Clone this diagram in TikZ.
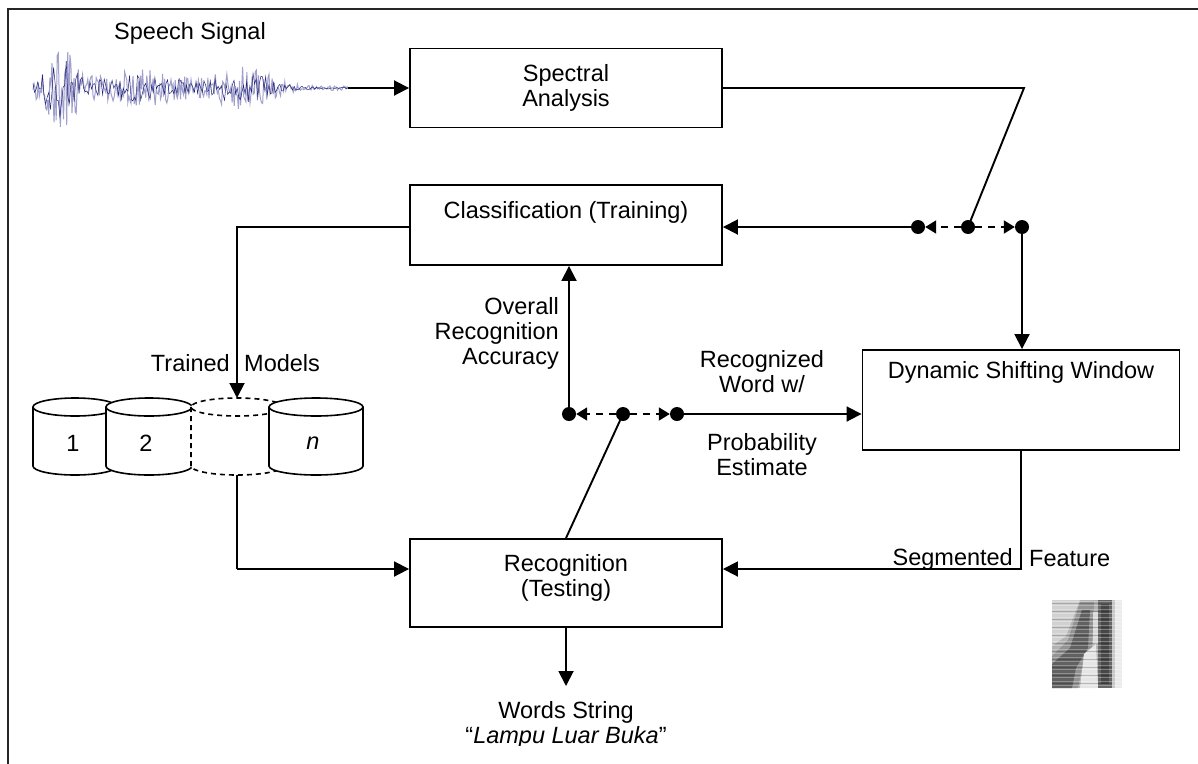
\documentclass[tikz,border=0pt]{standalone}
\usepackage{fontspec}
\setmainfont{Liberation Sans}
\usetikzlibrary{arrows.meta}
\begin{document}
\begin{tikzpicture}[x=1pt,y=-1pt,
  every node/.style={font=\fontsize{23.5}{25}\selectfont, inner sep=0pt},
  blk/.style={draw, line width=1.9pt, fill=white},
  ln/.style={line width=1.9pt},
  arr/.style={line width=1.9pt, -{Triangle[length=15pt,width=15pt]}},
  dsh/.style={line width=1.9pt, dash pattern=on 7pt off 6pt, -{Triangle[length=11pt,width=13pt]}},
  dot/.style={circle, fill=black, minimum size=14pt, inner sep=0pt},
  cyl/.style={line width=1.6pt, fill=white},
  dcyl/.style={line width=1.6pt, fill=white, dash pattern=on 5pt off 4pt},
  lbl/.style={align=center}
]
\useasboundingbox (0,0) rectangle (1198,763);
\fill[white] (0,0) rectangle (1198,763);
% frame
\draw[line width=2.2pt, black!85] (8,780) -- (8,9) -- (1210,9);

% speech signal
\node (sslbl) at (190,33) {Speech Signal};
\pgfmathsetseed{7}
\draw[color={rgb,255:red,160;green,160;blue,205}, line width=1pt]
  plot[domain=33:348, samples=300] (\x, {88 + rand*(36*exp(-((\x-60)/20)^2) + 16*exp(-((\x-140)/55)^2) + 20*exp(-((\x-245)/33)^2) + 2.5)});
\draw[color={rgb,255:red,35;green,35;blue,120}, line width=0.5pt]
  plot[domain=33:348, samples=200] (\x, {88 + 0.75*rand*(36*exp(-((\x-60)/20)^2) + 16*exp(-((\x-140)/55)^2) + 20*exp(-((\x-245)/33)^2) + 1.5)});
\coordinate (sig) at (348,88);

% boxes
\node[blk, minimum width=312pt, minimum height=79pt] (spec) at (566,88) {};
\node[lbl] (spect) at (566,88) {Spectral\\Analysis};
\node[blk, minimum width=312pt, minimum height=80pt] (cls) at (566,225) {};
\node (clst) at (566,212) {Classification (Training)};
\node[blk, minimum width=317pt, minimum height=100pt] (dsw) at (1021,400) {};
\node (dswt) at (1021,372) {Dynamic Shifting Window};
\node[blk, minimum width=312pt, minimum height=88pt] (rec) at (566,583) {};
\node[lbl] (rect) at (566,578) {Recognition\\(Testing)};

% switch 1
\node[dot] (a1) at (918,227) {};
\node[dot] (a2) at (968,227) {};
\node[dot] (a3) at (1022,227) {};
\coordinate (bend1) at (1024,88);
% switch 2
\node[dot] (b1) at (569,414) {};
\node[dot] (b2) at (623,414) {};
\node[dot] (b3) at (677,414) {};

% connectors
\draw[arr] (sig) -- (spec.west |- sig);
\draw[ln] (spec.east |- bend1) -- (bend1) -- (a2.center);
\draw[dsh] (a2) -- (a1);
\draw[dsh] (a2) -- (a3);
\draw[arr] (a1.center) -- (cls.east |- a1);
\draw[arr] (a3.center) -- (a3 |- dsw.north);
\draw[arr] (b1.center) -- (b1 |- cls.south);
\draw[dsh] (b2) -- (b1);
\draw[dsh] (b2) -- (b3);
\draw[arr] (b3.center) -- (dsw.west |- b3);
\draw[ln] (b2.center) -- (rec.north);
\coordinate (segc) at (1021,569);
\draw[arr] (dsw.south -| segc) -- (segc) -- (rec.east |- segc);

% labels
\node[align=right, anchor=east] (ora) at (559,333) {Overall\\Recognition\\Accuracy};
\node[lbl] (rw) at (762,372) {Recognized\\Word w/};
\node[lbl] (pe) at (762,455) {Probability\\Estimate};
\node[anchor=east] (sg1) at (1013,559) {Segmented};
\node[anchor=west] (sg2) at (1029,559) {Feature};

% trained models and cylinders
\coordinate (tmc) at (237,227);
\node[anchor=east] (tm1) at (230,363) {Trained};
\node[anchor=west] (tm2) at (244,363) {Models};
\def\mycyl#1#2#3{%
  \path[#3] (#1-#2,407) -- (#1-#2,466) arc[start angle=180,end angle=0,x radius=#2,y radius=9] -- (#1+#2,407) arc[start angle=0,end angle=-180,x radius=#2,y radius=9] -- cycle;
  \draw[#3, fill=none] (#1-#2,407) -- (#1-#2,466) arc[start angle=180,end angle=0,x radius=#2,y radius=9] -- (#1+#2,407);
  \draw[#3, fill=none] (#1,407) ellipse[x radius=#2, y radius=9];}
\mycyl{75}{42}{cyl}
\node (c1) at (73,443) {1};
\mycyl{149}{43}{cyl}
\node (c2) at (146,443) {2};
\mycyl{237}{46}{dcyl}
\mycyl{316}{47}{cyl}
\node (cn) at (313,443) {\itshape n};
\coordinate (c3top) at (237,398);
\coordinate (c3bot) at (237,475);
\draw[arr] (cls.west |- tmc) -- (tmc) -- (c3top);
\coordinate (recl) at (237,569);
\draw[ln] (c3bot) -- (recl);
\draw[arr] (recl) -- (rec.west |- recl);

% output
\coordinate (outp) at (566,686);
\draw[arr] (rec.south) -- (outp);
\begin{scope}
\clip (300,690) rectangle (850,745);
\node[lbl] (ws) at (566,725) {Words String\\``\textit{Lampu Luar Buka}''};
\end{scope}

% spectrogram
\begin{scope}
\clip (1052,600) rectangle (1122,688);
\fill[black!30] (1052,600) rectangle (1110,688);
\fill[black!18] (1052,600) -- (1080,600) -- (1066,636) -- (1052,646) -- cycle;
\fill[black!45, opacity=0.8] (1052,688) -- (1052,656) -- (1068,640) -- (1080,602) -- (1094,602) -- (1092,650) -- (1082,668) -- (1078,688) -- cycle;
\fill[black!70, opacity=0.7] (1052,688) -- (1052,664) -- (1070,648) -- (1082,610) -- (1090,610) -- (1088,648) -- (1076,668) -- (1072,688) -- cycle;
\fill[black!10] (1084,654) -- (1096,644) -- (1098,688) -- (1080,688) -- cycle;
\fill[black!15] (1093,612) rectangle (1098,644);
\fill[black!60] (1098,600) rectangle (1112,688);
\fill[black!80, opacity=0.6] (1101,604) rectangle (1109,684);
\fill[black!8] (1112,600) rectangle (1122,688);
\fill[black!22] (1112,600) rectangle (1115,688);
\foreach \i in {0,...,21} {
  \pgfmathsetmacro{\yy}{601+\i*4}
  \draw[white, opacity=0.3, line width=0.9pt] (1052,\yy) -- (1122,\yy);
}
\foreach \i in {0,...,10} {
  \pgfmathsetmacro{\yy}{603+\i*8}
  \draw[black, opacity=0.2, line width=0.9pt] (1052,\yy) -- (1112,\yy);
}
\end{scope}
\end{tikzpicture}
\end{document}
